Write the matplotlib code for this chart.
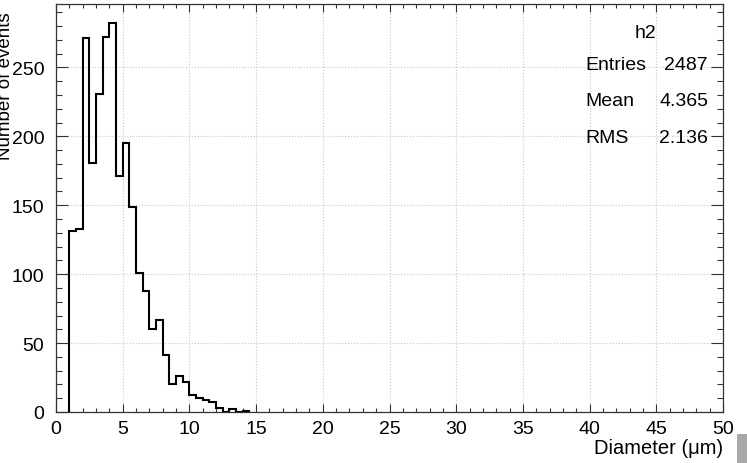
import numpy as np
import matplotlib
matplotlib.use("Agg")
import matplotlib.pyplot as plt
from matplotlib.ticker import MultipleLocator
from matplotlib.patches import Rectangle

plt.rcParams['font.family'] = ['Liberation Sans', 'DejaVu Sans']

# histogram h2: bins of 0.5 um starting at 1.0 um
bin_lo = 1.0
bin_width = 0.5
counts = [131, 133, 271, 181, 231, 272, 282, 171, 195, 149, 101, 88, 60, 67,
          41, 20, 26, 22, 12, 10, 9, 7, 3, 0, 2, 0, 1]
stats_names = ["Entries", "Mean", "RMS"]
stats_values = ["2487", "4.365", "2.136"]

edges = bin_lo + bin_width * np.arange(len(counts) + 1)

fs = 14
fs_stats = 14
fig = plt.figure(figsize=(7.47, 4.64), dpi=100)
W, H = 747, 464
ax = fig.add_axes([56 / W, 1 - 413 / H, (723 - 56) / W, (413 - 5) / H])

ax.stairs(counts, edges, color='black', lw=1.5, baseline=0)

ax.set_xlim(0, 50)
ax.set_ylim(0, 296)
ax.xaxis.set_major_locator(MultipleLocator(5))
ax.xaxis.set_minor_locator(MultipleLocator(1))
ax.yaxis.set_major_locator(MultipleLocator(50))
ax.yaxis.set_minor_locator(MultipleLocator(10))
ax.tick_params(which='both', direction='in', top=True, right=True,
               labelsize=fs, width=0.8, color='#333333')
ax.tick_params(axis='y', which='major', length=8.6, pad=8.5)
ax.tick_params(axis='y', which='minor', length=4.3)
ax.tick_params(axis='x', which='major', length=5.8, pad=5.5)
ax.tick_params(axis='x', which='minor', length=2.9)
for s in ax.spines.values():
    s.set_linewidth(0.9)
    s.set_color('#333333')
ax.grid(True, which='major', color='#c8c8c8', linestyle=':', linewidth=0.8)
ax.set_axisbelow(True)

fig.text(723 / W, 1 - 449 / H, "Diameter (\u03bcm)", ha='right', va='center',
         fontsize=14.5)
fig.text(14 / W, 1 - 160 / H, "Number of events", rotation=90, ha='right',
         va='bottom', fontsize=13.5)

# stats box
fig.text(646 / W, 1 - 33 / H, "h2", ha='center', va='center', fontsize=fs_stats)
for i, (n, v) in enumerate(zip(stats_names, stats_values)):
    y = 1 - (65 + 37 * i) / H
    fig.text(585 / W, y, n, ha='left', va='center', fontsize=fs_stats)
    fig.text(708 / W, y, v, ha='right', va='center', fontsize=fs_stats)

# canvas shadow corner
fig.patches.append(Rectangle((737 / W, 0), 10 / W, 29 / H, transform=fig.transFigure,
                             facecolor='#a8a8a8', edgecolor='none'))

fig.savefig("out.png", dpi=100)
